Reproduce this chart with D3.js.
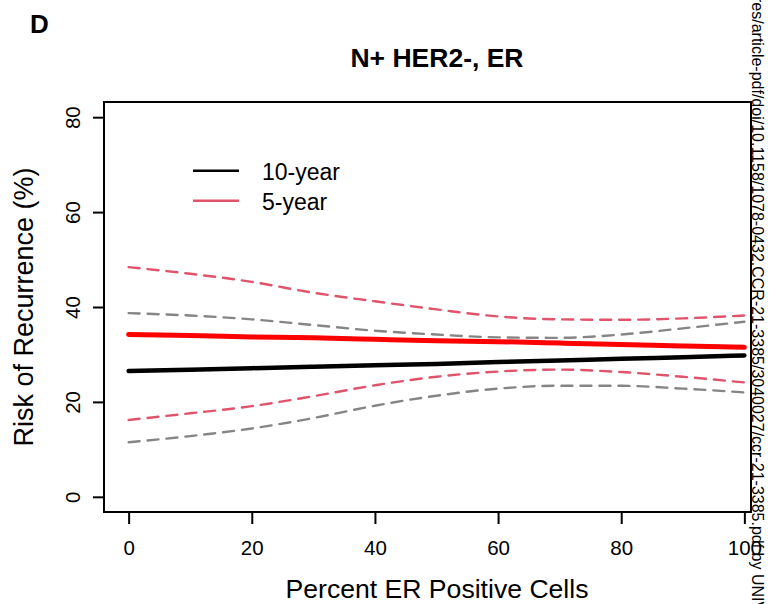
<!DOCTYPE html>
<html>
<head>
<meta charset="utf-8">
<script src="https://cdn.jsdelivr.net/npm/d3@7"></script>
<style>
body { margin:0; background:#fff; }
svg text { font-family: Arial, "Liberation Sans", sans-serif; fill:#000; }
</style>
</head>
<body>
<svg id="graph"></svg>
<script>
// values
var pct = [0,10,20,30,40,50,60,70,80,90,100]
var tenYear = [26.5,26.8,27.1,27.4,27.7,28.0,28.4,28.7,29.1,29.4,29.8]
var fiveYear = [34.2,34.0,33.7,33.5,33.2,32.9,32.7,32.4,32.1,31.8,31.5]
var tenLow = [11.5,12.8,14.4,16.6,19.2,21.3,22.8,23.4,23.4,22.8,22.0]
var tenHigh = [38.7,38.2,37.4,36.2,35.0,34.2,33.6,33.5,34.2,35.5,36.9]
var fiveLow = [16.2,17.6,19.1,21.2,23.5,25.3,26.4,26.8,26.3,25.3,24.1]
var fiveHigh = [48.4,47.0,45.3,43.0,41.2,39.5,38.0,37.4,37.3,37.6,38.2]
var xTicks = [0,20,40,60,80,100]
var yTicks = [0,20,40,60,80]
var legendNames = ["10-year","5-year"]
var watermark = "res/article-pdf/doi/10.1158/1078-0432.CCR-21-3385/3040027/ccr-21-3385.pdf by UNIVERSITY"

var screen = {width:772, height:604}
var margins = {left:104, right:3, top:102, bottom:92}
var boxRight = 751

var svg = d3.select("#graph")
  .attr("width", screen.width)
  .attr("height", screen.height)

var xScale = d3.scaleLinear()
  .domain([-4,104])
  .range([margins.left, screen.width-margins.right])

var yScale = d3.scaleLinear()
  .domain([-3.2,83.2])
  .range([screen.height-margins.bottom, margins.top])

var rows = function(lo)
{
  return pct.map(function(p,i){ return {x:p, y:lo[i]} })
}

var line = d3.line()
  .x(function(d){ return xScale(d.x) })
  .y(function(d){ return yScale(d.y) })
  .curve(d3.curveMonotoneX)

var drawLines = function()
{
  var g = svg.append("g")
  var series = [
    {data:tenLow, color:"#858585", width:2.4, dash:"11,8"},
    {data:tenHigh, color:"#858585", width:2.4, dash:"11,8"},
    {data:fiveLow, color:"#DF536B", width:2.4, dash:"11,8"},
    {data:fiveHigh, color:"#DF536B", width:2.4, dash:"11,8"},
    {data:tenYear, color:"#000000", width:4.5, dash:null},
    {data:fiveYear, color:"#FF0000", width:5, dash:null}
  ]
  series.forEach(function(s)
  {
    g.append("path")
      .datum(rows(s.data))
      .attr("fill","none")
      .attr("stroke",s.color)
      .attr("stroke-width",s.width)
      .attr("stroke-linecap","round")
      .attr("stroke-dasharray",s.dash)
      .attr("d",line)
  })
}

var drawAxes = function()
{
  var xAxis = d3.axisBottom(xScale)
    .tickValues(xTicks)
    .tickSize(12)
    .tickPadding(16)
  var yAxis = d3.axisLeft(yScale)
    .tickValues(yTicks)
    .tickSize(11)
    .tickPadding(0)

  var gx = svg.append("g")
    .attr("transform","translate(0,"+(screen.height-margins.bottom)+")")
    .call(xAxis)
  gx.select(".domain").remove()
  gx.selectAll("line").attr("stroke","#000").attr("stroke-width",2)
  gx.selectAll("text")
    .attr("font-size",20.5)
    .attr("font-family","Arial, 'Liberation Sans', sans-serif")
    .attr("fill","#000")

  var gy = svg.append("g")
    .attr("transform","translate("+margins.left+",0)")
    .call(yAxis)
  gy.select(".domain").remove()
  gy.selectAll("line").attr("stroke","#000").attr("stroke-width",2)
  gy.selectAll("text")
    .attr("font-size",20.5)
    .attr("font-family","Arial, 'Liberation Sans', sans-serif")
    .attr("fill","#000")
    .attr("x",null).attr("dy",null)
    .attr("text-anchor","middle")
    .attr("transform","translate(-24,0) rotate(-90)")

  svg.append("rect")
    .attr("x",margins.left)
    .attr("y",margins.top)
    .attr("width",boxRight-margins.left)
    .attr("height",screen.height-margins.bottom-margins.top)
    .attr("fill","none")
    .attr("stroke","#000")
    .attr("stroke-width",2)
}

var drawLabels = function()
{
  svg.append("text")
    .text("D")
    .attr("x",30)
    .attr("y",33)
    .attr("font-size",26)
    .attr("font-weight","bold")

  svg.append("text")
    .text("N+ HER2-, ER")
    .attr("x",437)
    .attr("y",67)
    .attr("text-anchor","middle")
    .attr("font-size",26.5)
    .attr("font-weight","bold")

  svg.append("text")
    .text("Percent ER Positive Cells")
    .attr("x",437)
    .attr("y",598)
    .attr("text-anchor","middle")
    .attr("font-size",26.6)

  svg.append("text")
    .text("Risk of Recurrence (%)")
    .attr("text-anchor","middle")
    .attr("font-size",27)
    .attr("transform","translate(33,307) rotate(-90)")
}

var drawLegend = function()
{
  var colors = ["#000000","#DF536B"]
  var lg = svg.append("g")
  legendNames.forEach(function(name,i)
  {
    var yy = 170.7 + i*30
    lg.append("line")
      .attr("x1",193).attr("x2",239)
      .attr("y1",yy).attr("y2",yy)
      .attr("stroke",colors[i])
      .attr("stroke-width",2.5)
    lg.append("text")
      .text(name)
      .attr("x",262)
      .attr("y",yy+9)
      .attr("font-size",23)
  })
}

var drawWatermark = function()
{
  svg.append("text")
    .text(watermark)
    .attr("font-size",16)
    .attr("fill","#000")
    .attr("transform","translate(752,-3) rotate(90)")
}

drawLines()
drawAxes()
drawLabels()
drawLegend()
drawWatermark()
</script>
</body>
</html>
